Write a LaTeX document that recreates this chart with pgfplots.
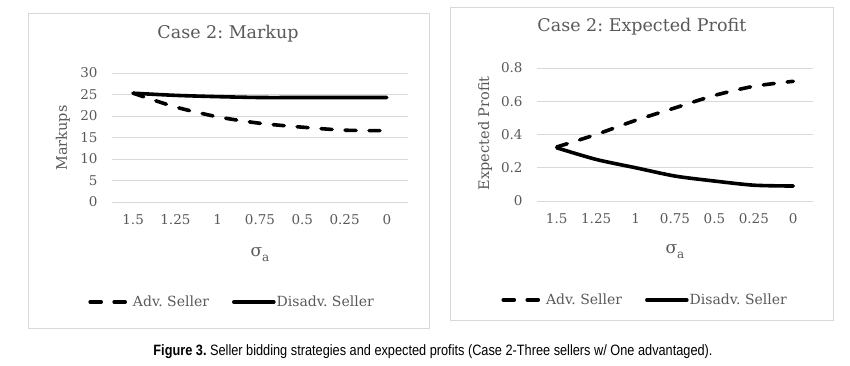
\documentclass[border=0pt]{standalone}
\usepackage{pgfplots}
\pgfplotsset{compat=1.18}
\usepackage{fontspec}
\setmainfont{DejaVu Serif}
\newfontfamily\capfont[FakeStretch=0.85]{Liberation Sans}
\definecolor{txt}{HTML}{595959}
\definecolor{gridc}{HTML}{D9D9D9}
\definecolor{framec}{HTML}{D9D9D9}
\frenchspacing
\pgfplotsset{
  myax/.style={
    scale only axis,
    xmin=-0.5, xmax=6.5, ymin=0,
    xtick={0,1,2,3,4,5,6},
    xticklabels={1.5,1.25,1,0.75,0.5,0.25,0},
    axis line style={draw=none},
    major tick length=0pt,
    ymajorgrids,
    major grid style={gridc, line width=0.9pt},
    tick label style={txt, font=\fontsize{13.5}{15}\selectfont},
    /pgf/number format/assume math mode=true,
    xticklabel style={yshift=-9pt},
    yticklabel style={xshift=-11pt},
    label style={txt, font=\fontsize{14.5}{16}\selectfont},
    title style={txt, font=\fontsize{17.5}{19}\selectfont, anchor=center},
    legend style={draw=none, fill=none, legend columns=2, text=txt,
      font=\fontsize{14}{16}\selectfont, anchor=center,
      /tikz/every even column/.append style={column sep=22pt},
      inner sep=0pt, nodes={inner sep=1pt}},
    legend image code/.code={\draw[##1] (1pt,0pt) -- (41pt,0pt);},
    clip=false,
  },
  adv/.style={black, line width=3.6pt, line cap=round, dash pattern=on 11pt off 13pt, smooth, tension=0.45},
  dis/.style={black, line width=3.6pt, line cap=round, smooth, tension=0.45},
}
\newcommand{\siga}{{\fontsize{17}{19}\selectfont σ}\raisebox{-5pt}{\fontsize{12}{13}\selectfont a}}
\begin{document}
\begin{tikzpicture}[x=1pt,y=1pt]
\path[use as bounding box] (0,0) rectangle (850,366);
\draw[framec, line width=0.9pt] (28,366-13) rectangle (429,366-328);
\draw[framec, line width=0.9pt] (450,366-7) rectangle (833,366-320);

\begin{axis}[myax, at={(112pt,164pt)}, anchor=south west,
  width=296pt, height=129pt, ymax=30, ytick={0,5,...,30},
  title={Case 2: Markup},
  title style={at={(axis description cs:0.392,1.256)}},
  ylabel={Markups},
  ylabel style={at={(axis description cs:-0.166,0.496)}, anchor=center},
  xlabel={\siga},
  xlabel style={at={(axis description cs:0.5,-0.41)}, anchor=center},
  legend style={at={(axis description cs:0.404,-0.775)}},
]
\addplot[adv] coordinates {(0,25.3) (1,22.1) (2,19.8) (3,18.3) (4,17.4) (5,16.7) (6,16.6)};
\addlegendentry{Adv. Seller}
\addplot[dis] coordinates {(0,25.3) (1,24.8) (2,24.5) (3,24.3) (4,24.3) (5,24.3) (6,24.3)};
\addlegendentry{Disadv. Seller}
\end{axis}

\begin{axis}[myax, at={(537pt,165pt)}, anchor=south west,
  width=276pt, height=133pt, ymax=0.8, ytick={0,0.2,...,0.8},
  yticklabel style={/pgf/number format/.cd, fixed, precision=1},
  title={Case 2: Expected Profit},
  title style={at={(axis description cs:0.38,1.263)}},
  ylabel={Expected Profit},
  ylabel style={at={(axis description cs:-0.188,0.51)}, anchor=center},
  xlabel={\siga},
  xlabel style={at={(axis description cs:0.5,-0.38)}, anchor=center},
  legend style={at={(axis description cs:0.39,-0.744)}},
]
\addplot[adv] coordinates {(0,0.325) (1,0.40) (2,0.485) (3,0.56) (4,0.635) (5,0.69) (6,0.72)};
\addlegendentry{Adv. Seller}
\addplot[dis] coordinates {(0,0.32) (1,0.25) (2,0.20) (3,0.15) (4,0.12) (5,0.095) (6,0.09)};
\addlegendentry{Disadv. Seller}
\end{axis}

\node[font=\capfont\fontsize{15}{17}\selectfont, text=black] at (433,366-352) {\textbf{Figure 3.} Seller bidding strategies and expected profits (Case 2-Three sellers w/ One advantaged).};
\end{tikzpicture}
\end{document}
